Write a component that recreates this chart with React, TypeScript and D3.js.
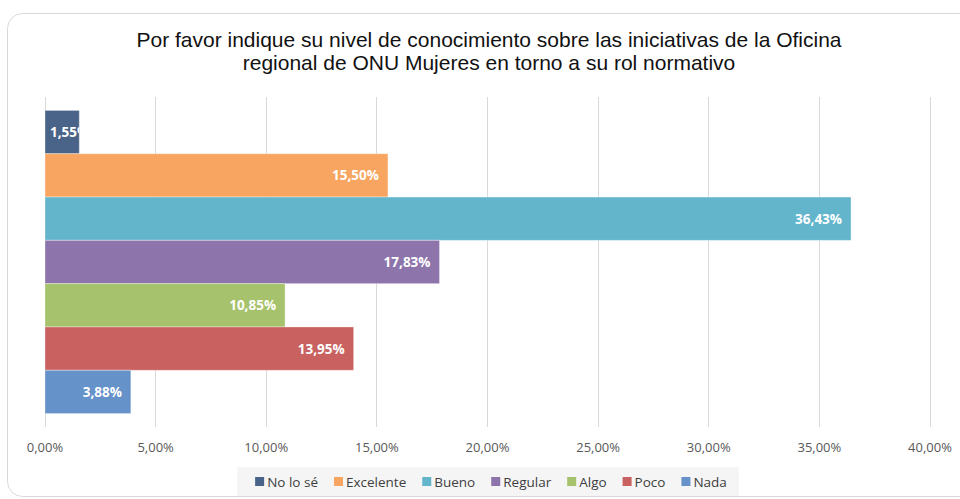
import React, { useRef, useEffect } from "react";
import * as d3 from "d3";

const titleLines = [
  "Por favor indique su nivel de conocimiento sobre las iniciativas de la Oficina",
  "regional de ONU Mujeres en torno a su rol normativo",
];
const seriesNames = ["No lo sé", "Excelente", "Bueno", "Regular", "Algo", "Poco", "Nada"];
const seriesValues = [1.55, 15.5, 36.43, 17.83, 10.85, 13.95, 3.88];
const seriesColors = ["#4a6388", "#f7a561", "#63b5cc", "#8d74ab", "#a6c26c", "#c8615f", "#6592c8"];
const tickValues = [0, 5, 10, 15, 20, 25, 30, 35, 40];

const W = 960;
const H = 499;
const fmt = (v: number) => v.toFixed(2).replace(".", ",") + "%";

function App() {
  const svgRef = useRef<SVGSVGElement>(null);

  useEffect(() => {
    const svg = d3.select(svgRef.current);
    svg.selectAll("*").remove();

    // card frame
    svg.append("rect")
      .attr("x", 7.5).attr("y", 13.5)
      .attr("width", 1000).attr("height", 483)
      .attr("rx", 15)
      .attr("fill", "#fff")
      .attr("stroke", "#d9d9d9");

    // title
    const title = svg.append("text")
      .attr("text-anchor", "middle")
      .attr("font-family", "Liberation Sans, Arial, sans-serif")
      .attr("font-size", 21)
      .attr("fill", "#111");
    titleLines.forEach((line, i) => {
      title.append("tspan").attr("x", 489).attr("y", 47 + i * 23).text(line);
    });

    // scales
    const x = d3.scaleLinear().domain([0, 40]).range([45, 930]);
    const y = d3.scaleBand<string>()
      .domain(seriesNames)
      .range([97, 427])
      .paddingInner(0)
      .paddingOuter(0.31);

    // gridlines
    svg.append("g")
      .selectAll("line")
      .data(tickValues)
      .join("line")
      .attr("x1", d => x(d)).attr("x2", d => x(d))
      .attr("y1", 97).attr("y2", 427)
      .attr("stroke", "#d9d9d9")
      .attr("stroke-width", 1)
      .attr("shape-rendering", "crispEdges");

    // tick labels
    svg.append("g")
      .selectAll("text")
      .data(tickValues)
      .join("text")
      .attr("x", d => x(d))
      .attr("y", 452)
      .attr("text-anchor", "middle")
      .attr("font-family", "Open Sans, sans-serif")
      .attr("font-size", 13)
      .attr("fill", "#595959")
      .text(d => fmt(d));

    // bars
    const defs = svg.append("defs");
    const bars = svg.append("g");
    seriesNames.forEach((name, i) => {
      const v = seriesValues[i];
      const y0 = y(name)!;
      const bw = y.bandwidth();
      const x0 = x(0);
      const x1 = x(v);
      bars.append("rect")
        .attr("x", x0).attr("y", y0)
        .attr("width", x1 - x0).attr("height", bw)
        .attr("fill", seriesColors[i])
        .attr("stroke", "#ffffff")
        .attr("stroke-opacity", 0.35)
        .attr("stroke-width", 1);

      const clipId = "clip-" + i;
      defs.append("clipPath").attr("id", clipId)
        .append("rect")
        .attr("x", x0).attr("y", y0)
        .attr("width", x1 - x0).attr("height", bw);

      const label = bars.append("text")
        .attr("y", y0 + bw / 2 + 5)
        .attr("font-family", "Open Sans, sans-serif")
        .attr("font-weight", "bold")
        .attr("font-size", 13.5)
        .attr("fill", "#ffffff")
        .attr("clip-path", `url(#${clipId})`)
        .text(fmt(v));
      const tw = (label.node() as SVGTextElement).getComputedTextLength();
      if (x1 - x0 < tw + 12) {
        label.attr("x", x0 + 5).attr("text-anchor", "start");
      } else {
        label.attr("x", x1 - 9).attr("text-anchor", "end");
      }
    });

    // legend
    const legend = svg.append("g");
    const legendBg = legend.append("rect")
      .attr("fill", "#f5f5f5");
    const items = legend.append("g");
    let cx = 0;
    seriesNames.forEach((name, i) => {
      const g = items.append("g").attr("transform", `translate(${cx},0)`);
      g.append("rect")
        .attr("x", 0).attr("y", -5)
        .attr("width", 9).attr("height", 9)
        .attr("fill", seriesColors[i]);
      const t = g.append("text")
        .attr("x", 12).attr("y", 5)
        .attr("font-family", "Open Sans, sans-serif")
        .attr("font-size", 13.5)
        .attr("fill", "#404040")
        .text(name);
      const tw = (t.node() as SVGTextElement).getComputedTextLength();
      cx += 12 + tw + 16;
    });
    const total = cx - 16;
    const lx = 491 - total / 2;
    items.attr("transform", `translate(${lx},482)`);
    legendBg
      .attr("x", lx - 18).attr("y", 467)
      .attr("width", total + 30).attr("height", 29);
  }, []);

  return (
    <svg
      ref={svgRef}
      width={W}
      height={H}
      style={{ position: "fixed", left: 0, top: 0, background: "#fff" }}
    />
  );
}

export default App;
